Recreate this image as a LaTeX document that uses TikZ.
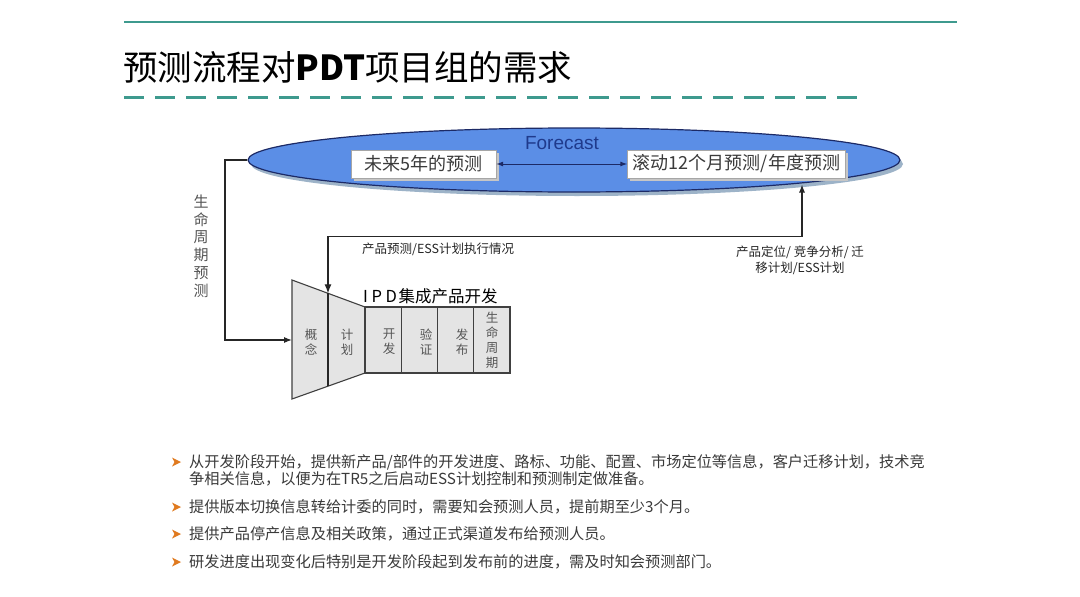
\documentclass[tikz,border=0pt]{standalone}
\usepackage{fontspec}
\setmainfont{Noto Sans CJK SC}
\newfontfamily\latinf{Liberation Sans}
\usetikzlibrary{shapes.geometric,arrows.meta,calc,shadows}
\definecolor{teal1}{HTML}{3E9A8E}
\definecolor{ellfill}{HTML}{5B8EE6}
\definecolor{elldraw}{HTML}{1C2A66}
\definecolor{ellshadow}{HTML}{9DB3C8}
\definecolor{forecastc}{HTML}{1F3A8C}
\definecolor{stagefill}{HTML}{E4E4E4}
\definecolor{bodyc}{HTML}{3A3A3A}
\definecolor{labelc}{HTML}{555555}
\definecolor{bulletc}{HTML}{E07A1F}
\newcommand\bulletmark[1]{\fill[bulletc] (172,#1-4.5) -- (181,#1) -- (172,#1+4.5) -- (174.5,#1) -- cycle;}
\begin{document}
\begin{tikzpicture}[x=1pt,y=-1pt,
  fbox/.style={draw=gray!70, fill=white, minimum height=28pt, inner sep=0pt,
     font=\fontsize{18}{20}\selectfont, text=bodyc,
     drop shadow={shadow xshift=2.5pt, shadow yshift=-2.5pt, fill=gray!45, opacity=1}},
  conn/.style={draw=black!85, line width=1.1pt},
  arr/.style={-{Latex[length=8pt,width=6pt]}},
  stagebox/.style={draw=black!75, line width=1.1pt, fill=stagefill, minimum width=36.25pt, minimum height=66pt, inner sep=0pt},
  stagetxt/.style={font=\fontsize{12.5}{15}\selectfont, text=labelc, align=center, inner sep=0pt},
  bodytxt/.style={anchor=west, inner sep=0pt, font=\fontsize{15.2}{17}\selectfont, text=bodyc},
  smalltxt/.style={font=\fontsize{12.5}{16}\selectfont, text=black!85, inner sep=0pt}
]
\useasboundingbox[fill=white] (0,0) rectangle (1080,597);

% header
\draw[teal1, line width=1.3pt] (124,22) -- (957,22);
\node[anchor=west, inner sep=0pt, font=\fontsize{34.5}{40}\selectfont] (title) at (123,67) {预测流程对{\bfseries PDT}项目组的需求};
\draw[teal1, line width=3pt, dash pattern=on 20pt off 11pt] (124,97) -- (864,97);

% forecast ellipse
\node[ellipse, fill=ellshadow, minimum width=652pt, minimum height=64pt, inner sep=0pt] (ellsh) at (577,164) {};
\node[ellipse, draw=elldraw, line width=1.2pt, fill=ellfill, minimum width=652pt, minimum height=64pt, inner sep=0pt] (ell) at (574,160) {};
\node[font=\latinf\fontsize{19}{22}\selectfont, text=forecastc, inner sep=0pt] (fc) at (562,143) {Forecast};
\node[fbox, minimum width=145pt] (b1) at (423.5,164) {未来5年的预测};
\node[fbox, minimum width=218pt] (b2) at (736.5,164) {滚动12个月预测/年度预测};
\draw[elldraw, line width=1pt, {Latex[length=7pt,width=5pt]}-{Latex[length=7pt,width=5pt]}] (b1.east) -- (b2.west);

% IPD funnel
\coordinate (tA) at (292,280);
\coordinate (tB) at (365,307);
\coordinate (tC) at (365,373);
\coordinate (tD) at (292,399);
\coordinate (tmid) at (292,340);
\coordinate (dtop) at (328,293.3);
\coordinate (dbot) at (328,386.2);
\draw[draw=black!75, line width=1.1pt, fill=stagefill] (tA) -- (tB) -- (tC) -- (tD) -- cycle;
\draw[conn] (dtop) -- (dbot);
\node[stagebox] (s1) at (383.1,340) {};
\node[stagebox] (s2) at (419.4,340) {};
\node[stagebox] (s3) at (455.6,340) {};
\node[stagebox] (s4) at (491.9,340) {};
\node[stagetxt] (l0) at (311,342) {概\\念};
\node[stagetxt] (l1) at (347,342) {计\\划};
\node[stagetxt] (l2) at (389,342) {开\\发};
\node[stagetxt] (l3) at (426,342) {验\\证};
\node[stagetxt] (l4) at (462,342) {发\\布};
\node[stagetxt] (l5) at (492,340) {生\\命\\周\\期};
\node[anchor=west, inner sep=0pt, font=\fontsize{16.5}{20}\selectfont] (ipd) at (363,296) {I\hspace{0.22em}P\hspace{0.22em}D\hspace{0.1em}集成产品开发};

% connectors
\coordinate (lc) at (225,0);
\draw[conn, arr] (ell.west) -- (ell.west -| lc) -- (lc |- tmid) -- (tmid);
\node[font=\fontsize{15}{17.8}\selectfont, text=labelc, align=center, inner sep=0pt] (life) at (201,246) {生\\命\\周\\期\\预\\测};

\coordinate (mid) at (0,236.5);
\coordinate (etop) at (802,184.5);
\draw[conn, {Latex[length=9pt,width=7pt]}-{Latex[length=8pt,width=6pt]}] (dtop) -- (dtop |- mid) -- (etop |- mid) -- (etop);
\node[smalltxt, anchor=west] (lab1) at (362,249) {产品预测/ESS计划执行情况};
\node[smalltxt, align=center] (lab2) at (800,260) {产品定位/ 竞争分析/ 迁\\移计划/ESS计划};

% bullets
\bulletmark{462}
\node[bodytxt] (t1a) at (189,462) {从开发阶段开始，提供新产品/部件的开发进度、路标、功能、配置、市场定位等信息，客户迁移计划，技术竞};
\node[bodytxt] (t1b) at (189,479) {争相关信息，以便为在TR5之后启动ESS计划控制和预测制定做准备。};
\bulletmark{507}
\node[bodytxt] (t2) at (189,507) {提供版本切换信息转给计委的同时，需要知会预测人员，提前期至少3个月。};
\bulletmark{534}
\node[bodytxt] (t3) at (189,534) {提供产品停产信息及相关政策，通过正式渠道发布给预测人员。};
\bulletmark{562}
\node[bodytxt] (t4) at (189,562) {研发进度出现变化后特别是开发阶段起到发布前的进度，需及时知会预测部门。};
\end{tikzpicture}
\end{document}
